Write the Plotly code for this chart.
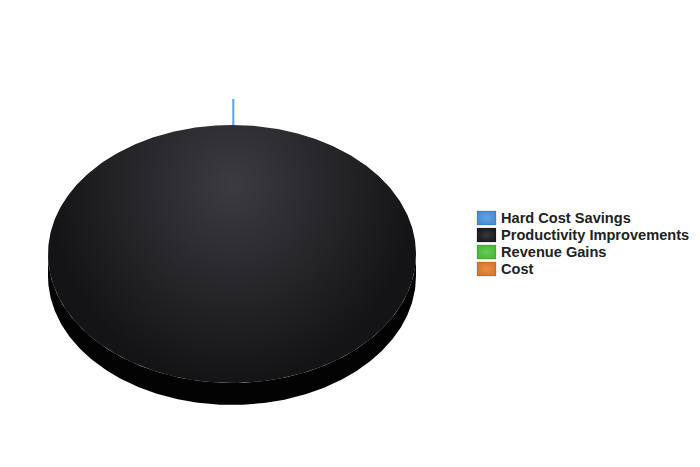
import numpy as np
import plotly.graph_objects as go

categories = ["Hard Cost Savings", "Productivity Improvements", "Revenue Gains", "Cost"]
values = [0, 100, 0, 0]
colors = ["#4a8bd2", "#1c1c1e", "#4cb83c", "#d6782a"]
light_colors = ["#62a4e6", "#3a3a3e", "#66cc55", "#e8904a"]

# geometry (pixels) -> data mapping
CX, CY, RX, RY = 232, 254, 184, 129
W, H = 700, 467
DEPTH = 22 / RY          # extrusion depth
HILITE = (CY - 185) / RY  # highlight centre of the top face gradient


def px_to_x(p):
    return (p - CX) / RX


def py_to_y(p):
    return (CY - p) / RY


fig = go.Figure()

total = sum(values)
fracs = [v / total for v in values]

# side (extrusion) of the visible front half
t = np.linspace(np.pi, 2 * np.pi, 300)
sx = np.concatenate([np.cos(t), np.cos(t[::-1])])
sy = np.concatenate([np.sin(t), np.sin(t[::-1]) - DEPTH])
fig.add_trace(go.Scatter(x=sx, y=sy, fill="toself", mode="lines",
                         line=dict(width=0), fillcolor="#030303",
                         hoverinfo="skip", showlegend=False))

cum = 0.0
for cat, f, col in zip(categories, fracs, colors):
    a0 = np.pi / 2 - 2 * np.pi * cum
    a1 = np.pi / 2 - 2 * np.pi * (cum + f)
    if f > 0:
        n = max(int(500 * f), 3)
        ang = np.linspace(a0, a1, n)
        if f >= 0.9999:
            # full disc; a zero-area spike lifts the gradient centre toward the top
            top = 2 * HILITE + 1
            px = np.concatenate([np.cos(ang), [0, 0, 0]])
            py = np.concatenate([np.sin(ang), [1, top, 1]])
        else:
            px = np.concatenate([[0], np.cos(ang), [0]])
            py = np.concatenate([[0], np.sin(ang), [0]])
        fig.add_trace(go.Scatter(
            x=px, y=py, fill="toself", mode="lines", line=dict(width=0),
            fillgradient=dict(type="radial",
                              colorscale=[[0, "#3b3b40"], [0.45, "#2a2a2e"],
                                          [0.8, "#1c1c1e"], [1, "#141416"]]),
            hoverinfo="skip", showlegend=False, name=cat))
    elif cat == categories[0]:
        # zero-valued slice: drawn as a thin radial marker at its angle
        fig.add_trace(go.Scatter(
            x=[px_to_x(233.3) + 1.2 * np.cos(a0), px_to_x(233.3) + np.cos(a0)],
            y=[1.2016 * np.sin(a0), np.sin(a0)],
            mode="lines", line=dict(color="#5aa0e2", width=2),
            hoverinfo="skip", showlegend=False))
    cum += f

# legend (manual, to match the tight row spacing)
for i, (cat, col, lc) in enumerate(zip(categories, colors, light_colors)):
    yc = 218 + 17 * i
    x0, x1 = px_to_x(477), px_to_x(496)
    y0, y1 = py_to_y(yc + 7), py_to_y(yc - 7)
    fig.add_trace(go.Scatter(
        x=[x0, x1, x1, x0, x0], y=[y0, y0, y1, y1, y0], fill="toself", mode="lines",
        line=dict(width=1, color="rgba(0,0,0,0.15)"),
        fillgradient=dict(type="radial", colorscale=[[0, lc], [1, col]]),
        hoverinfo="skip", showlegend=False))
    fig.add_annotation(x=px_to_x(499), y=py_to_y(yc - 0.5), text=cat, showarrow=False,
                       xanchor="left", yanchor="middle",
                       font=dict(family="Liberation Sans, Arial, sans-serif", size=14.6,
                                 color="#222222", weight="bold"))

fig.update_layout(
    width=W, height=H,
    margin=dict(l=0, r=0, t=0, b=0),
    paper_bgcolor="white", plot_bgcolor="white",
    xaxis=dict(range=[px_to_x(0), px_to_x(W)], visible=False, fixedrange=True),
    yaxis=dict(range=[py_to_y(H), py_to_y(0)], visible=False, fixedrange=True),
    showlegend=False,
)

fig.write_html("out.html")
